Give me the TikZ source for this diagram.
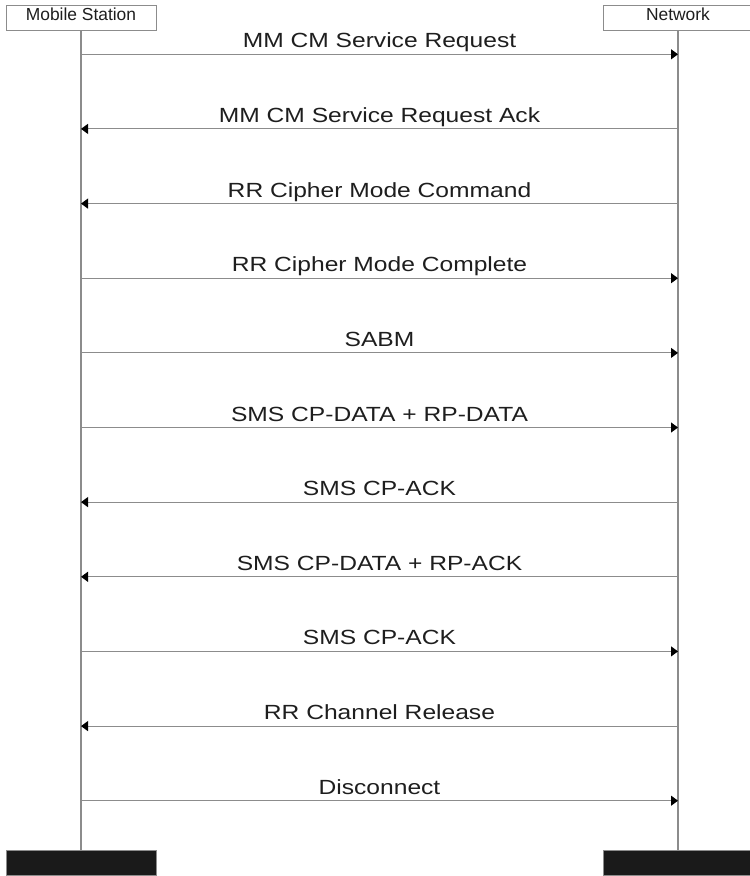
\documentclass[tikz,border=0pt]{standalone}
\usepackage{fontspec}
\setmainfont{Liberation Sans}
\newfontfamily\msgfont[FakeStretch=1.2]{Liberation Sans}
\usepackage{xcolor}
\usepackage{tikz}
\usetikzlibrary{arrows.meta,positioning}

\definecolor{linegray}{HTML}{8C8C8C}
\definecolor{barblack}{HTML}{1A1A1A}
\definecolor{txtblack}{HTML}{1E1E1E}

\begin{document}
\begin{tikzpicture}[
    x=1pt, y=-1pt,
    actor/.style={draw=linegray, fill=white, minimum width=150pt, minimum height=25pt,
                  inner sep=0pt, text height=12.7pt, text depth=6.3pt,
                  text=txtblack, font=\fontsize{17.4}{20}\selectfont},
    endbar/.style={draw=linegray, fill=barblack, minimum width=150pt, minimum height=25pt,
                   inner sep=0pt},
    life/.style={draw=linegray, line width=1.2pt},
    msg/.style={draw=linegray, line width=1.1pt,
                -{Triangle[length=7pt, width=10pt, color=black]}},
    lbl/.style={midway, anchor=base, yshift=6.5pt, inner sep=0pt, text=txtblack,
                font=\msgfont\fontsize{20.5}{24}\selectfont}
  ]
  \useasboundingbox (0,0) rectangle (750,876);
  \clip (0,0) rectangle (750,876);

  % actors and lifelines
  \node[actor] (ms)  at (81,17.5)  {Mobile Station};
  \node[actor] (net) at (678,17.5) {Network};
  \node[endbar] (msend)  at (81,862.5)  {};
  \node[endbar] (netend) at (678,862.5) {};
  \draw[life] (ms)  -- (msend);
  \draw[life] (net) -- (netend);

  % message ends on the lifelines
  \coordinate (ms1)  at (81,54.3);   \coordinate (net1)  at (678,54.3);
  \coordinate (ms2)  at (81,128.9);  \coordinate (net2)  at (678,128.9);
  \coordinate (ms3)  at (81,203.6);  \coordinate (net3)  at (678,203.6);
  \coordinate (ms4)  at (81,278.2);  \coordinate (net4)  at (678,278.2);
  \coordinate (ms5)  at (81,352.9);  \coordinate (net5)  at (678,352.9);
  \coordinate (ms6)  at (81,427.5);  \coordinate (net6)  at (678,427.5);
  \coordinate (ms7)  at (81,502.1);  \coordinate (net7)  at (678,502.1);
  \coordinate (ms8)  at (81,576.8);  \coordinate (net8)  at (678,576.8);
  \coordinate (ms9)  at (81,651.4);  \coordinate (net9)  at (678,651.4);
  \coordinate (ms10) at (81,726.1);  \coordinate (net10) at (678,726.1);
  \coordinate (ms11) at (81,800.7);  \coordinate (net11) at (678,800.7);

  % messages
  \draw[msg] (ms1)   -- (net1)  node[lbl] (l1)  {MM CM Service Request};
  \draw[msg] (net2)  -- (ms2)   node[lbl] (l2)  {MM CM Service Request Ack};
  \draw[msg] (net3)  -- (ms3)   node[lbl] (l3)  {RR Cipher Mode Command};
  \draw[msg] (ms4)   -- (net4)  node[lbl] (l4)  {RR Cipher Mode Complete};
  \draw[msg] (ms5)   -- (net5)  node[lbl] (l5)  {SABM};
  \draw[msg] (ms6)   -- (net6)  node[lbl] (l6)  {SMS CP-DATA + RP-DATA};
  \draw[msg] (net7)  -- (ms7)   node[lbl] (l7)  {SMS CP-ACK};
  \draw[msg] (net8)  -- (ms8)   node[lbl] (l8)  {SMS CP-DATA + RP-ACK};
  \draw[msg] (ms9)   -- (net9)  node[lbl] (l9)  {SMS CP-ACK};
  \draw[msg] (net10) -- (ms10)  node[lbl] (l10) {RR Channel Release};
  \draw[msg] (ms11)  -- (net11) node[lbl] (l11) {Disconnect};
\end{tikzpicture}
\end{document}
